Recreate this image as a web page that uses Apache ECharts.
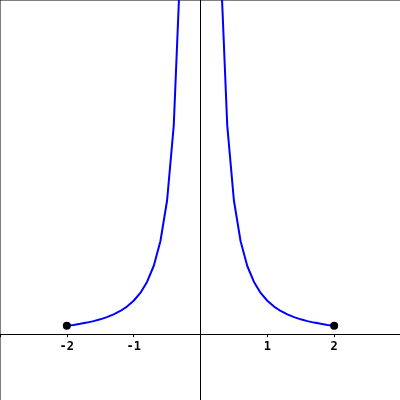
<!DOCTYPE html>
<html>
<head>
<meta charset="utf-8">
<script src="https://cdn.jsdelivr.net/npm/echarts@6/dist/echarts.min.js"></script>
<style>html,body{margin:0;padding:0;background:#fff}#c{width:400px;height:400px}</style>
</head>
<body>
<div id="c"></div>
<script>
// Left branch (x < 0)
var leftX = [-2.0, -1.9, -1.8, -1.7, -1.6, -1.5, -1.4, -1.3, -1.2, -1.1, -1.0, -0.9, -0.8, -0.7, -0.6, -0.5, -0.4, -0.3];
var leftY = [0.25, 0.277, 0.309, 0.346, 0.391, 0.444, 0.510, 0.592, 0.694, 0.826, 1.0, 1.235, 1.5625, 2.04, 2.78, 4.0, 6.25, 11.1];
// Right branch (x > 0)
var rightX = [0.3, 0.4, 0.5, 0.6, 0.7, 0.8, 0.9, 1.0, 1.1, 1.2, 1.3, 1.4, 1.5, 1.6, 1.7, 1.8, 1.9, 2.0];
var rightY = [11.1, 6.25, 4.0, 2.78, 2.04, 1.5625, 1.235, 1.0, 0.826, 0.694, 0.592, 0.510, 0.444, 0.391, 0.346, 0.309, 0.277, 0.25];
// Endpoint dots
var dotX = [-2, 2];
var dotY = [0.25, 0.25];
var xTickLabels = {"-2": "-2", "-1": "-1", "1": "1", "2": "2"};

var X_MIN = -3, X_MAX = 3, Y_MIN = -2, Y_MAX = 10;

function zip(a, b) { return a.map(function (v, i) { return [v, b[i]]; }); }

var el = document.getElementById('c');
var chart = echarts.init(el, null, {renderer: 'canvas'});
var gridH = el.clientHeight + 1;
// distance from grid bottom up to the y = 0 line
var zeroOffset = gridH * (0 - Y_MIN) / (Y_MAX - Y_MIN);

chart.setOption({
  animation: false,
  backgroundColor: '#ffffff',
  grid: {left: 0, top: 0, right: -1, bottom: -1, outerBoundsMode: 'none', containLabel: false,
         show: true, borderColor: '#000', borderWidth: 1, backgroundColor: 'transparent'},
  xAxis: [{
    type: 'value', min: X_MIN, max: X_MAX, interval: 1,
    axisLine: {onZero: true, lineStyle: {color: '#000', width: 1}},
    axisTick: {show: true, length: 3, lineStyle: {color: '#000'}},
    splitLine: {show: false},
    axisLabel: {show: false}
  }, {
    type: 'value', min: X_MIN, max: X_MAX, interval: 1, position: 'bottom', offset: -zeroOffset,
    axisLine: {show: false, onZero: false},
    axisTick: {show: false},
    splitLine: {show: false},
    axisLabel: {
      margin: 7, hideOverlap: false, showMinLabel: true, showMaxLabel: true,
      color: '#000', fontFamily: 'DejaVu Sans Mono', fontWeight: 'bold', fontSize: 12,
      formatter: function (v) { var k = String(Math.round(v)); return xTickLabels[k] || ''; }
    }
  }],
  yAxis: {
    type: 'value', min: Y_MIN, max: Y_MAX, interval: 2,
    axisLine: {show: true, onZero: true, lineStyle: {color: '#000', width: 1}},
    axisTick: {show: false},
    axisLabel: {show: false},
    splitLine: {show: false}
  },
  series: [
    {type: 'line', data: zip(leftX, leftY), showSymbol: false, clip: true,
     lineStyle: {color: '#0000ff', width: 2}, itemStyle: {color: '#0000ff'}},
    {type: 'line', data: zip(rightX, rightY), showSymbol: false, clip: true,
     lineStyle: {color: '#0000ff', width: 2}, itemStyle: {color: '#0000ff'}},
    {type: 'scatter', data: zip(dotX, dotY), symbol: 'circle', symbolSize: 8,
     itemStyle: {color: '#000', opacity: 1}, z: 5}
  ]
});
</script>
</body>
</html>
